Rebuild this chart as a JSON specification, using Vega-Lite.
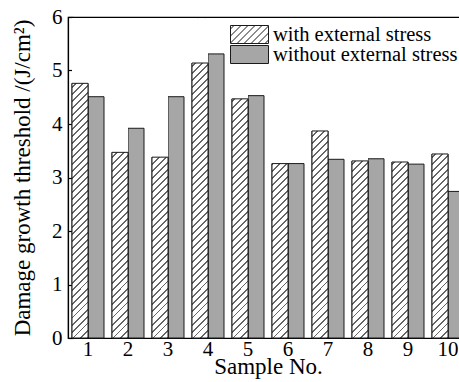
{
  "$schema": "https://vega.github.io/schema/vega-lite/v6.json",
  "width": 400,
  "height": 321,
  "autosize": {"type": "none"},
  "padding": {"left": 68, "top": 17, "right": -9, "bottom": 44},
  "background": "white",
  "config": {
    "font": "Liberation Serif",
    "view": {"stroke": "black", "strokeWidth": 1.2},
    "style": {"guide-label": {"font": "Liberation Serif"}, "guide-title": {"font": "Liberation Serif"}},
    "axis": {
      "domainColor": "black", "domainWidth": 1.2, "grid": false,
      "labelFont": "Liberation Serif", "labelFontSize": 21, "labelColor": "black",
      "titleFont": "Liberation Serif", "titleFontSize": 23, "titleFontWeight": "normal", "titleColor": "black",
      "tickColor": "black", "tickWidth": 1.2, "zindex": 1
    },
    "legend": {"labelFont": "Liberation Serif", "labelFontSize": 20.5, "labelColor": "black", "labelLimit": 400, "padding": 0, "rowPadding": 0}
  },
  "data": {"values": [
    {"sample": 1, "condition": "with external stress", "threshold": 4.76},
    {"sample": 1, "condition": "without external stress", "threshold": 4.51},
    {"sample": 2, "condition": "with external stress", "threshold": 3.47},
    {"sample": 2, "condition": "without external stress", "threshold": 3.92},
    {"sample": 3, "condition": "with external stress", "threshold": 3.38},
    {"sample": 3, "condition": "without external stress", "threshold": 4.51},
    {"sample": 4, "condition": "with external stress", "threshold": 5.14},
    {"sample": 4, "condition": "without external stress", "threshold": 5.31},
    {"sample": 5, "condition": "with external stress", "threshold": 4.47},
    {"sample": 5, "condition": "without external stress", "threshold": 4.53},
    {"sample": 6, "condition": "with external stress", "threshold": 3.26},
    {"sample": 6, "condition": "without external stress", "threshold": 3.26},
    {"sample": 7, "condition": "with external stress", "threshold": 3.87},
    {"sample": 7, "condition": "without external stress", "threshold": 3.34},
    {"sample": 8, "condition": "with external stress", "threshold": 3.31},
    {"sample": 8, "condition": "without external stress", "threshold": 3.35},
    {"sample": 9, "condition": "with external stress", "threshold": 3.29},
    {"sample": 9, "condition": "without external stress", "threshold": 3.25},
    {"sample": 10, "condition": "with external stress", "threshold": 3.44},
    {"sample": 10, "condition": "without external stress", "threshold": 2.74}
  ]},
  "encoding": {
    "x": {"field": "sample", "type": "ordinal", "scale": {"paddingInner": 0.2, "paddingOuter": 0.1},
      "axis": {"title": "Sample No.", "labelAngle": 0, "ticks": false, "labelBaseline": "alphabetic", "labelPadding": 17, "titleBaseline": "alphabetic", "titleY": 35}},
    "xOffset": {"field": "condition", "type": "nominal", "scale": {"domain": ["with external stress", "without external stress"], "paddingInner": 0, "paddingOuter": 0}}
  },
  "layer": [
    {
      "transform": [{"filter": "datum.condition === 'without external stress'"}],
      "mark": {"type": "bar", "stroke": "#1a1a1a", "strokeWidth": 1},
      "encoding": {
        "y": {"field": "threshold", "type": "quantitative",
          "scale": {"domain": [0, 6], "nice": false},
          "axis": {"title": "Damage growth threshold /(J/cm²)", "values": [0, 1, 2, 3, 4, 5, 6], "format": "d", "tickSize": -5, "labelPadding": 11, "titleBaseline": "alphabetic", "titleX": -39}},
        "fill": {"field": "condition", "type": "nominal",
          "scale": {"domain": ["without external stress"], "range": ["#a6a6a6"]},
          "legend": {"title": null, "orient": "none", "legendX": 171, "legendY": 27, "padding": 0, "zindex": 1,
            "symbolType": "M-1.9,-0.9H1.9V0.9H-1.9Z", "symbolSize": 400, "symbolStrokeColor": "#1a1a1a", "symbolStrokeWidth": 1,
            "labelOffset": 13, "symbolOpacity": 1, "labelFont": "Liberation Serif", "labelFontSize": 20.5, "labelLimit": 400}
        }
      }
    },
    {
      "transform": [{"filter": "datum.condition === 'with external stress'"}],
      "mark": {"type": "bar", "fill": "white", "strokeWidth": 1},
      "encoding": {
        "y": {"field": "threshold", "type": "quantitative"},
        "stroke": {"field": "condition", "type": "nominal",
          "scale": {"domain": ["with external stress"], "range": ["#1a1a1a"]},
          "legend": {"title": null, "orient": "none", "legendX": 171, "legendY": 7, "padding": 0, "zindex": 1,
            "symbolType": "M-1.9,-0.9H1.9V0.9H-1.9Z M-1.9,-0.55L-1.55,-0.9 M-1.9,0.15L-0.85,-0.9 M-1.9,0.85L-0.15,-0.9 M-1.25,0.9L0.55,-0.9 M-0.55,0.9L1.25,-0.9 M0.15,0.9L1.9,-0.85 M0.85,0.9L1.9,-0.15 M1.55,0.9L1.9,0.55",
            "symbolSize": 400, "symbolStrokeColor": "#1a1a1a", "symbolStrokeWidth": 1, "symbolFillColor": "white",
            "labelOffset": 13, "symbolOpacity": 1, "labelFont": "Liberation Serif", "labelFontSize": 20.5, "labelLimit": 400}
        }
      }
    },
    {
      "transform": [{"filter": "datum.condition === 'with external stress'"}],
      "mark": {"type": "bar", "strokeWidth": 0, "fill": {"gradient": "linear", "x1": 0, "y1": 0, "x2": 0.0524, "y2": 1.0474, "stops": [
        {"offset": 0, "color": "#fff"}, {"offset": 0.0173, "color": "#fff"}, {"offset": 0.0173, "color": "#666"}, {"offset": 0.0208, "color": "#666"},
        {"offset": 0.0208, "color": "#fff"}, {"offset": 0.0381, "color": "#fff"}, {"offset": 0.0381, "color": "#666"}, {"offset": 0.0417, "color": "#666"},
        {"offset": 0.0417, "color": "#fff"}, {"offset": 0.059, "color": "#fff"}, {"offset": 0.059, "color": "#666"}, {"offset": 0.0625, "color": "#666"},
        {"offset": 0.0625, "color": "#fff"}, {"offset": 0.0798, "color": "#fff"}, {"offset": 0.0798, "color": "#666"}, {"offset": 0.0833, "color": "#666"},
        {"offset": 0.0833, "color": "#fff"}, {"offset": 0.1006, "color": "#fff"}, {"offset": 0.1006, "color": "#666"}, {"offset": 0.1042, "color": "#666"},
        {"offset": 0.1042, "color": "#fff"}, {"offset": 0.1215, "color": "#fff"}, {"offset": 0.1215, "color": "#666"}, {"offset": 0.125, "color": "#666"},
        {"offset": 0.125, "color": "#fff"}, {"offset": 0.1423, "color": "#fff"}, {"offset": 0.1423, "color": "#666"}, {"offset": 0.1458, "color": "#666"},
        {"offset": 0.1458, "color": "#fff"}, {"offset": 0.1631, "color": "#fff"}, {"offset": 0.1631, "color": "#666"}, {"offset": 0.1667, "color": "#666"},
        {"offset": 0.1667, "color": "#fff"}, {"offset": 0.184, "color": "#fff"}, {"offset": 0.184, "color": "#666"}, {"offset": 0.1875, "color": "#666"},
        {"offset": 0.1875, "color": "#fff"}, {"offset": 0.2048, "color": "#fff"}, {"offset": 0.2048, "color": "#666"}, {"offset": 0.2083, "color": "#666"},
        {"offset": 0.2083, "color": "#fff"}, {"offset": 0.2256, "color": "#fff"}, {"offset": 0.2256, "color": "#666"}, {"offset": 0.2292, "color": "#666"},
        {"offset": 0.2292, "color": "#fff"}, {"offset": 0.2465, "color": "#fff"}, {"offset": 0.2465, "color": "#666"}, {"offset": 0.25, "color": "#666"},
        {"offset": 0.25, "color": "#fff"}, {"offset": 0.2673, "color": "#fff"}, {"offset": 0.2673, "color": "#666"}, {"offset": 0.2708, "color": "#666"},
        {"offset": 0.2708, "color": "#fff"}, {"offset": 0.2881, "color": "#fff"}, {"offset": 0.2881, "color": "#666"}, {"offset": 0.2917, "color": "#666"},
        {"offset": 0.2917, "color": "#fff"}, {"offset": 0.309, "color": "#fff"}, {"offset": 0.309, "color": "#666"}, {"offset": 0.3125, "color": "#666"},
        {"offset": 0.3125, "color": "#fff"}, {"offset": 0.3298, "color": "#fff"}, {"offset": 0.3298, "color": "#666"}, {"offset": 0.3333, "color": "#666"},
        {"offset": 0.3333, "color": "#fff"}, {"offset": 0.3506, "color": "#fff"}, {"offset": 0.3506, "color": "#666"}, {"offset": 0.3542, "color": "#666"},
        {"offset": 0.3542, "color": "#fff"}, {"offset": 0.3715, "color": "#fff"}, {"offset": 0.3715, "color": "#666"}, {"offset": 0.375, "color": "#666"},
        {"offset": 0.375, "color": "#fff"}, {"offset": 0.3923, "color": "#fff"}, {"offset": 0.3923, "color": "#666"}, {"offset": 0.3958, "color": "#666"},
        {"offset": 0.3958, "color": "#fff"}, {"offset": 0.4131, "color": "#fff"}, {"offset": 0.4131, "color": "#666"}, {"offset": 0.4167, "color": "#666"},
        {"offset": 0.4167, "color": "#fff"}, {"offset": 0.434, "color": "#fff"}, {"offset": 0.434, "color": "#666"}, {"offset": 0.4375, "color": "#666"},
        {"offset": 0.4375, "color": "#fff"}, {"offset": 0.4548, "color": "#fff"}, {"offset": 0.4548, "color": "#666"}, {"offset": 0.4583, "color": "#666"},
        {"offset": 0.4583, "color": "#fff"}, {"offset": 0.4756, "color": "#fff"}, {"offset": 0.4756, "color": "#666"}, {"offset": 0.4792, "color": "#666"},
        {"offset": 0.4792, "color": "#fff"}, {"offset": 0.4965, "color": "#fff"}, {"offset": 0.4965, "color": "#666"}, {"offset": 0.5, "color": "#666"},
        {"offset": 0.5, "color": "#fff"}, {"offset": 0.5173, "color": "#fff"}, {"offset": 0.5173, "color": "#666"}, {"offset": 0.5208, "color": "#666"},
        {"offset": 0.5208, "color": "#fff"}, {"offset": 0.5381, "color": "#fff"}, {"offset": 0.5381, "color": "#666"}, {"offset": 0.5417, "color": "#666"},
        {"offset": 0.5417, "color": "#fff"}, {"offset": 0.559, "color": "#fff"}, {"offset": 0.559, "color": "#666"}, {"offset": 0.5625, "color": "#666"},
        {"offset": 0.5625, "color": "#fff"}, {"offset": 0.5798, "color": "#fff"}, {"offset": 0.5798, "color": "#666"}, {"offset": 0.5833, "color": "#666"},
        {"offset": 0.5833, "color": "#fff"}, {"offset": 0.6006, "color": "#fff"}, {"offset": 0.6006, "color": "#666"}, {"offset": 0.6042, "color": "#666"},
        {"offset": 0.6042, "color": "#fff"}, {"offset": 0.6215, "color": "#fff"}, {"offset": 0.6215, "color": "#666"}, {"offset": 0.625, "color": "#666"},
        {"offset": 0.625, "color": "#fff"}, {"offset": 0.6423, "color": "#fff"}, {"offset": 0.6423, "color": "#666"}, {"offset": 0.6458, "color": "#666"},
        {"offset": 0.6458, "color": "#fff"}, {"offset": 0.6631, "color": "#fff"}, {"offset": 0.6631, "color": "#666"}, {"offset": 0.6667, "color": "#666"},
        {"offset": 0.6667, "color": "#fff"}, {"offset": 0.684, "color": "#fff"}, {"offset": 0.684, "color": "#666"}, {"offset": 0.6875, "color": "#666"},
        {"offset": 0.6875, "color": "#fff"}, {"offset": 0.7048, "color": "#fff"}, {"offset": 0.7048, "color": "#666"}, {"offset": 0.7083, "color": "#666"},
        {"offset": 0.7083, "color": "#fff"}, {"offset": 0.7256, "color": "#fff"}, {"offset": 0.7256, "color": "#666"}, {"offset": 0.7292, "color": "#666"},
        {"offset": 0.7292, "color": "#fff"}, {"offset": 0.7465, "color": "#fff"}, {"offset": 0.7465, "color": "#666"}, {"offset": 0.75, "color": "#666"},
        {"offset": 0.75, "color": "#fff"}, {"offset": 0.7673, "color": "#fff"}, {"offset": 0.7673, "color": "#666"}, {"offset": 0.7708, "color": "#666"},
        {"offset": 0.7708, "color": "#fff"}, {"offset": 0.7881, "color": "#fff"}, {"offset": 0.7881, "color": "#666"}, {"offset": 0.7917, "color": "#666"},
        {"offset": 0.7917, "color": "#fff"}, {"offset": 0.809, "color": "#fff"}, {"offset": 0.809, "color": "#666"}, {"offset": 0.8125, "color": "#666"},
        {"offset": 0.8125, "color": "#fff"}, {"offset": 0.8298, "color": "#fff"}, {"offset": 0.8298, "color": "#666"}, {"offset": 0.8333, "color": "#666"},
        {"offset": 0.8333, "color": "#fff"}, {"offset": 0.8506, "color": "#fff"}, {"offset": 0.8506, "color": "#666"}, {"offset": 0.8542, "color": "#666"},
        {"offset": 0.8542, "color": "#fff"}, {"offset": 0.8715, "color": "#fff"}, {"offset": 0.8715, "color": "#666"}, {"offset": 0.875, "color": "#666"},
        {"offset": 0.875, "color": "#fff"}, {"offset": 0.8923, "color": "#fff"}, {"offset": 0.8923, "color": "#666"}, {"offset": 0.8958, "color": "#666"},
        {"offset": 0.8958, "color": "#fff"}, {"offset": 0.9131, "color": "#fff"}, {"offset": 0.9131, "color": "#666"}, {"offset": 0.9167, "color": "#666"},
        {"offset": 0.9167, "color": "#fff"}, {"offset": 0.934, "color": "#fff"}, {"offset": 0.934, "color": "#666"}, {"offset": 0.9375, "color": "#666"},
        {"offset": 0.9375, "color": "#fff"}, {"offset": 0.9548, "color": "#fff"}, {"offset": 0.9548, "color": "#666"}, {"offset": 0.9583, "color": "#666"},
        {"offset": 0.9583, "color": "#fff"}, {"offset": 0.9756, "color": "#fff"}, {"offset": 0.9756, "color": "#666"}, {"offset": 0.9792, "color": "#666"},
        {"offset": 0.9792, "color": "#fff"}, {"offset": 0.9965, "color": "#fff"}, {"offset": 0.9965, "color": "#666"}, {"offset": 1, "color": "#666"}
      ]}},
      "encoding": {
        "y": {"datum": 5.98, "type": "quantitative"},
        "y2": {"datum": 0}
      }
    },
    {
      "transform": [{"filter": "datum.condition === 'with external stress'"}],
      "mark": {"type": "bar", "fill": "white", "strokeWidth": 0},
      "encoding": {
        "y": {"field": "threshold", "type": "quantitative"},
        "y2": {"datum": 5.98}
      }
    },
    {
      "transform": [{"filter": "datum.condition === 'with external stress'"}],
      "mark": {"type": "bar", "fillOpacity": 0, "stroke": "#1a1a1a", "strokeWidth": 1},
      "encoding": {
        "y": {"field": "threshold", "type": "quantitative"}
      }
    }
  ]
}
